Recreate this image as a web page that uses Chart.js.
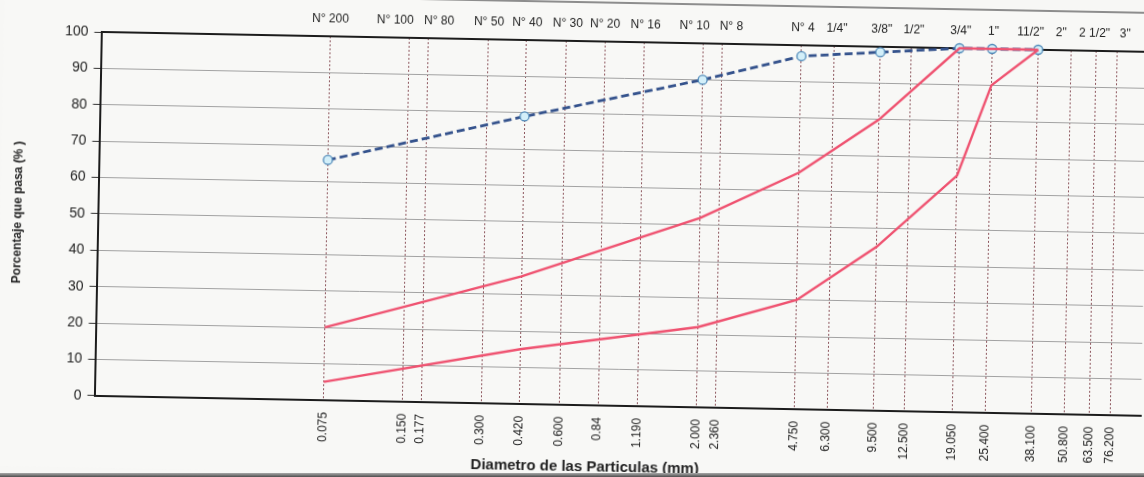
<!DOCTYPE html>
<html lang="es">
<head>
<meta charset="utf-8">
<title>Curva granulométrica</title>
<script src="https://cdn.jsdelivr.net/npm/chart.js@4.4.1/dist/chart.umd.min.js"></script>
<style>
  html, body { margin: 0; padding: 0; width: 1144px; height: 477px; overflow: hidden; background: #f7f7f5; }
  #sheet { position: relative; width: 1144px; height: 477px; overflow: hidden; background: #f7f7f5; }
  /* the printed sheet sits at a slight angle */
  #chart { position: absolute; left: 0; top: 0; width: 1150px; height: 477px;
           transform: rotate(1.09deg); transform-origin: 575px 238px; }
  #edge { position: absolute; left: 0; right: 0; bottom: 0; height: 4px;
          background: linear-gradient(#a9a9a9, #4e4e4e); }
</style>
</head>
<body>
<div id="sheet">
  <canvas id="chart" width="1150" height="477"></canvas>
  <div id="edge"></div>
</div>
<script>
// Sieve openings (mm), their printed values and their sieve names
const sieveMm = [0.075, 0.150, 0.177, 0.300, 0.420, 0.600, 0.84, 1.190, 2.000, 2.360,
                 4.750, 6.300, 9.500, 12.500, 19.050, 25.400, 38.100, 50.800, 63.500, 76.200];
const sieveMmLabels = ['0.075', '0.150', '0.177', '0.300', '0.420', '0.600', '0.84', '1.190', '2.000', '2.360',
                       '4.750', '6.300', '9.500', '12.500', '19.050', '25.400', '38.100', '50.800', '63.500', '76.200'];
const sieveNames = ['N° 200', 'N° 100', 'N° 80', 'N° 50', 'N° 40', 'N° 30', 'N° 20', 'N° 16', 'N° 10', 'N° 8',
                    'N° 4', '1/4"', '3/8"', '1/2"', '3/4"', '1"', '11/2"', '2"', '2 1/2"', '3"'];

// Sieves used for the sample and the specification band
const testSieves = [0.075, 0.420, 2.000, 4.750, 9.500, 19.050, 25.400, 38.100];
const passingSample = [66, 79, 90, 97, 98.5, 100, 100, 100];   // % que pasa, muestra
const specUpper = [20, 35, 52, 65, 80, 100, 100, 100];          // límite superior
const specLower = [5, 15, 22, 30, 45, 65, 90, 100];             // límite inferior

const FONT = '"Liberation Sans", Arial, Helvetica, sans-serif';
const TEXT = '#232323';

// horizontal nudges (px) so crowded sieve names do not collide
const nameNudge = [0, -14, 11, 1, 1, 1, 0, 1, -9, 9, 1, 3, 1, 2, 1, 1, -8, -10, -2, 8];

const pairs = (xs, ys) => xs.map((x, i) => ({ x: x, y: ys[i] }));

// paper background and the outer frame line of the sheet
const sheetBackground = {
  id: 'sheetBackground',
  beforeDraw(chart) {
    const { ctx, width, height } = chart;
    ctx.save();
    ctx.fillStyle = '#f8f8f6';
    ctx.fillRect(0, 0, width, height);
    ctx.strokeStyle = '#6a6a6a';
    ctx.lineWidth = 1.5;
    ctx.beginPath();
    ctx.moveTo(0, 2);
    ctx.lineTo(width, 2);
    ctx.stroke();
    ctx.restore();
  }
};

// sieve names written above the frame, one per sieve line
const sieveNameLabels = {
  id: 'sieveNameLabels',
  afterDraw(chart) {
    const { ctx, chartArea } = chart;
    const xs = chart.scales.x;
    ctx.save();
    ctx.font = '12px ' + FONT;
    ctx.fillStyle = TEXT;
    ctx.textAlign = 'center';
    ctx.textBaseline = 'middle';
    sieveNames.forEach((name, i) => {
      ctx.fillText(name, xs.getPixelForValue(sieveMm[i]) + nameNudge[i], chartArea.top - 17);
    });
    ctx.restore();
  }
};

const sieveTicks = scale => { scale.ticks = sieveMm.map(v => ({ value: v })); };

new Chart(document.getElementById('chart'), {
  type: 'line',
  data: {
    datasets: [
      {
        label: 'Límite superior',
        data: pairs(testSieves, specUpper),
        borderColor: '#ef5270', borderWidth: 2.4,
        pointRadius: 0, tension: 0, fill: false, clip: false, order: 1
      },
      {
        label: 'Límite inferior',
        data: pairs(testSieves, specLower),
        borderColor: '#ef5270', borderWidth: 2.4,
        pointRadius: 0, tension: 0, fill: false, clip: false, order: 1
      },
      {
        label: 'Muestra',
        data: pairs(testSieves, passingSample),
        borderColor: '#34528c', borderWidth: 2.8, borderDash: [8, 4],
        pointRadius: 4.5, pointBackgroundColor: '#d3eff9',
        pointBorderColor: '#4d88b8', pointBorderWidth: 1.3,
        tension: 0, fill: false, clip: false, order: 2
      }
    ]
  },
  options: {
    responsive: false,
    animation: false,
    devicePixelRatio: 1,
    layout: { padding: { left: 31, right: 3, top: 0, bottom: 0 } },
    plugins: {
      legend: { display: false },
      tooltip: { enabled: false },
      title: {
        display: true,
        position: 'bottom',
        text: 'Diametro de las Particulas (mm)',
        color: TEXT,
        font: { family: FONT, size: 15, weight: 'bold' },
        padding: { top: 0, bottom: 1.6 }
      }
    },
    scales: {
      x: {
        type: 'logarithmic',
        position: 'bottom',
        min: 0.01,
        max: 100,
        afterBuildTicks: sieveTicks,
        afterFit: s => { s.height = 52.6; },
        ticks: {
          autoSkip: false, minRotation: 90, maxRotation: 90, padding: 12,
          color: TEXT, font: { family: FONT, size: 12 },
          callback: (v, i) => sieveMmLabels[i]
        },
        grid: { color: 'rgba(122,58,66,0.85)', lineWidth: 1, drawTicks: false },
        border: { display: true, color: '#1c1c1c', width: 2, dash: [2, 2] }
      },
      xTop: {
        type: 'logarithmic',
        position: 'top',
        min: 0.01,
        max: 100,
        afterFit: s => { s.height = 41; },
        ticks: { display: false },
        grid: { display: false, drawTicks: false },
        border: { display: true, color: '#1c1c1c', width: 2 }
      },
      y: {
        min: 0,
        max: 100,
        afterFit: s => { s.width = 66.5; },
        ticks: { stepSize: 10, padding: 6, color: TEXT, font: { family: FONT, size: 14 } },
        grid: { color: '#a2a2a2', lineWidth: 1, tickLength: 7, tickColor: '#333' },
        border: { color: '#1c1c1c', width: 2 },
        title: {
          display: true,
          text: 'Porcentaje que pasa (% )',
          color: TEXT,
          font: { family: FONT, size: 12, weight: 'bold' },
          padding: { top: -20.5, bottom: 0 }
        }
      }
    }
  },
  plugins: [sheetBackground, sieveNameLabels]
});
</script>
</body>
</html>
